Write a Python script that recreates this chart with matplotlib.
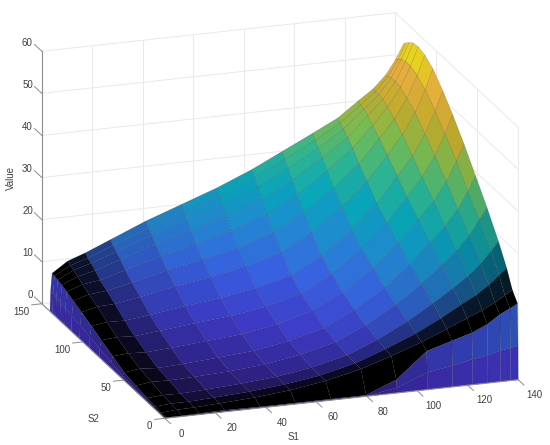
import numpy as np
import matplotlib
matplotlib.use("Agg")
import matplotlib.pyplot as plt
from matplotlib.colors import LinearSegmentedColormap
from mpl_toolkits.mplot3d import proj3d

plt.rcParams['font.family'] = ['Liberation Sans', 'DejaVu Sans']

s1_nodes = [0, .2, .8, 7, 14, 24, 38, 52, 66, 80, 92, 104, 114, 122, 128, 133, 137, 140]
s2_nodes = [0, .2, .8, 7, 14, 24, 38, 52, 66, 80, 92, 104, 114, 122, 128, 133, 137, 140]

# one row per S1 node
value_rows = [
    [0, 0, 0, 0, 0, 0, 0, 0, 0, 0, 0, 0, 0, 0, 0, 0, 0, 0],
    [0, 0, 0, 0, .1, .2, .4, .7, 1.3, 2, 2.6, 3.2, 3.6, 4, 4.2, 4.4, 4.6, 4.7],
    [0, 0, 0, 0, .2, .4, .8, 1.4, 2.7, 4, 5.2, 6.3, 7.2, 7.9, 8.4, 8.7, 8.9, 9],
    [0, 0, 0, .3, .5, .7, 1.3, 1.9, 3, 4.3, 5.7, 7.2, 8.3, 9.2, 10, 10.6, 11, 11.5],
    [0, 0, .1, .4, .5, .6, 1.2, 1.6, 2.8, 4.1, 5.6, 7.4, 8.7, 9.8, 11, 11.8, 12.3, 13],
    [0, 0, .2, .7, .8, .9, 1.4, 1.9, 3.2, 4.7, 6.3, 8.4, 10, 11.5, 12.9, 13.9, 14.7, 15.5],
    [0, 0, .1, 1.2, 1.3, 1.4, 1.8, 2.5, 3.9, 5.6, 7.5, 10, 12, 13.9, 15.7, 16.9, 17.9, 19],
    [0, 0, .1, 2, 2.1, 2.1, 2.5, 3.2, 4.6, 6.4, 8.5, 11.3, 13.6, 15.8, 18, 19.5, 20.8, 22],
    [0, 0, .1, 3.3, 3.3, 3.4, 3.9, 4.6, 6.1, 7.7, 9.9, 12.9, 15.5, 18.1, 20.5, 22.2, 23.6, 25],
    [0, 0, .1, 5.2, 5.3, 5.4, 6, 6.8, 8.4, 9.9, 12, 15.3, 18.2, 21.1, 23.6, 25.5, 27.1, 28.5],
    [0, 1.2, 3, 7.5, 7.9, 8.3, 9.2, 10.3, 11.9, 13.7, 15.9, 19.2, 22.1, 24.9, 27.3, 29.2, 30.6, 32],
    [0, 4, 9, 10, 10.8, 11.9, 13.3, 14.8, 16.9, 19, 21.3, 24.5, 27.2, 29.8, 31.8, 33.2, 34.4, 35.5],
    [0, 5, 10.8, 12.5, 13.8, 15.5, 17.6, 19.7, 22.2, 24.5, 26.9, 29.9, 32.3, 34.5, 36, 37.1, 37.8, 38.5],
    [0, 6, 12.2, 14.5, 16.5, 18.6, 21.5, 24.3, 27.3, 30.1, 32.8, 35.7, 37.8, 39.5, 40.7, 41.3, 41.6, 42],
    [0, 6.5, 13.8, 16, 18.4, 21.1, 24.6, 27.9, 31.3, 34.5, 37.2, 40.2, 42, 43.5, 44.2, 44.4, 44.4, 44.5],
    [0, 7.3, 15.8, 17.5, 20.5, 23.7, 27.9, 31.6, 35.6, 39.2, 42.2, 45.1, 46.7, 47.8, 48.1, 48.1, 47.7, 47.5],
    [0, 7.7, 17, 19, 22.5, 26.4, 31.3, 35.6, 40.2, 44.1, 47.4, 50.3, 51.8, 52.6, 52.6, 52.3, 51.5, 51],
    [0, 8, 18, 20, 24, 28.5, 34, 39, 44, 48.5, 52, 55, 56.5, 57, 56.8, 56, 55.2, 54.4],
]

s1_ticks = [0, 20, 40, 60, 80, 100, 120, 140]
s2_ticks = [0, 50, 100, 150]
z_ticks = [0, 10, 20, 30, 40, 50, 60]

# how much the dense mesh darkens each grid interval
mesh_dark = [.9, .75, 0, .18, .58, .8, .88, .92, .93, .94, .95, .95, .96, .96, .96, .96, .96]

parula = LinearSegmentedColormap.from_list("parula", [
    (0.2422, 0.1504, 0.6603), (0.2803, 0.2782, 0.9221), (0.2440, 0.4358, 0.9988),
    (0.1540, 0.5902, 0.9218), (0.0297, 0.7082, 0.8163), (0.1938, 0.7758, 0.6251),
    (0.5044, 0.7993, 0.3480), (0.8185, 0.7327, 0.1873), (0.9856, 0.7372, 0.2537),
    (0.9763, 0.9831, 0.0538),
])

grey = "#8c8c8c"
light = "#e9e9e9"
text_col = "#404040"


def face_colors(z):
    mid = (z[:-1, :-1] + z[1:, :-1] + z[:-1, 1:] + z[1:, 1:]) / 4
    cols = parula(mid / z.max())
    dark = np.outer(mesh_dark, mesh_dark)
    cols[..., :3] *= dark[..., None]
    return cols


def label(ax, x, y, z, s, **kw):
    px, py, _ = proj3d.proj_transform(x, y, z, ax.get_proj())
    ax.text2D(px, py, s, transform=ax.transData, fontsize=7, color=text_col, va="center", **kw)


def draw_frame(ax):
    x0, x1 = s1_ticks[0], s1_ticks[-1]
    y0, y1 = s2_ticks[0], s2_ticks[-1]
    z0, z1 = z_ticks[0], z_ticks[-1]
    for s in s1_ticks:
        ax.plot([s, s], [y1, y1], [z0, z1], color=light, lw=.7, zorder=1)
        ax.plot([s, s], [y0, y1], [z0, z0], color=light, lw=.7, zorder=1)
    for s in s2_ticks:
        ax.plot([x1, x1], [s, s], [z0, z1], color=light, lw=.7, zorder=1)
        ax.plot([x0, x1], [s, s], [z0, z0], color=light, lw=.7, zorder=1)
    for v in z_ticks:
        ax.plot([x0, x1], [y1, y1], [v, v], color=light, lw=.7, zorder=1)
        ax.plot([x1, x1], [y0, y1], [v, v], color=light, lw=.7, zorder=1)
    ax.plot([x0, x1], [y0, y0], [z0, z0], color=grey, lw=.8, zorder=3)
    ax.plot([x0, x0], [y0, y1], [z0, z0], color=grey, lw=.8, zorder=3)
    ax.plot([x0, x0], [y1, y1], [z0, z1], color=grey, lw=.8, zorder=3)

    for s in s1_ticks:
        ax.plot([s, s], [y0, y0 - 7], [z0, z0], color=grey, lw=.7, zorder=3)
        label(ax, s, y0 - 20, z0, str(s), ha="center")
    for s in s2_ticks:
        ax.plot([x0, x0 - 4], [s, s], [z0, z0], color=grey, lw=.7, zorder=3)
        label(ax, x0 - 5, s, z0 - 1.6, str(s), ha="right")
    for v in z_ticks:
        ax.plot([x0, x0], [y1, y1 + 9], [v, v], color=grey, lw=.7, zorder=3)
        label(ax, x0, y1 + 11, v, str(v), ha="right")

    label(ax, 38.5, -39, 0, "S1", ha="center")
    label(ax, -25.6, 7.9, 0, "S2", ha="center")
    label(ax, 0, 188, 23, "Value", ha="center", rotation=90)


def main():
    z = np.array(value_rows, dtype=float)
    Y, X = np.meshgrid(s2_nodes, s1_nodes)

    fig = plt.figure(figsize=(5.5, 4.45), dpi=100)
    ax = fig.add_axes([-1 / 550, 1 / 445, 1, 1], projection="3d", proj_type="ortho", computed_zorder=False)
    ax.view_init(elev=18.6, azim=251.1)
    ax.set_box_aspect((373, 379, 266), zoom=1.299)
    ax.set_xlim(0, 140)
    ax.set_ylim(0, 150)
    ax.set_zlim(0, 60)
    ax.set_xticks([])
    ax.set_yticks([])
    ax.set_zticks([])
    ax.set_axis_off()

    draw_frame(ax)
    ax.plot_surface(X, Y, z, facecolors=face_colors(z), rstride=1, cstride=1, shade=False,
                    edgecolor=(0, 0, 0, .25), linewidth=.3, antialiased=True, zorder=2)

    for art in ax.get_children():
        art.set_clip_on(False)

    fig.savefig("out.png", dpi=100)


if __name__ == "__main__":
    main()
